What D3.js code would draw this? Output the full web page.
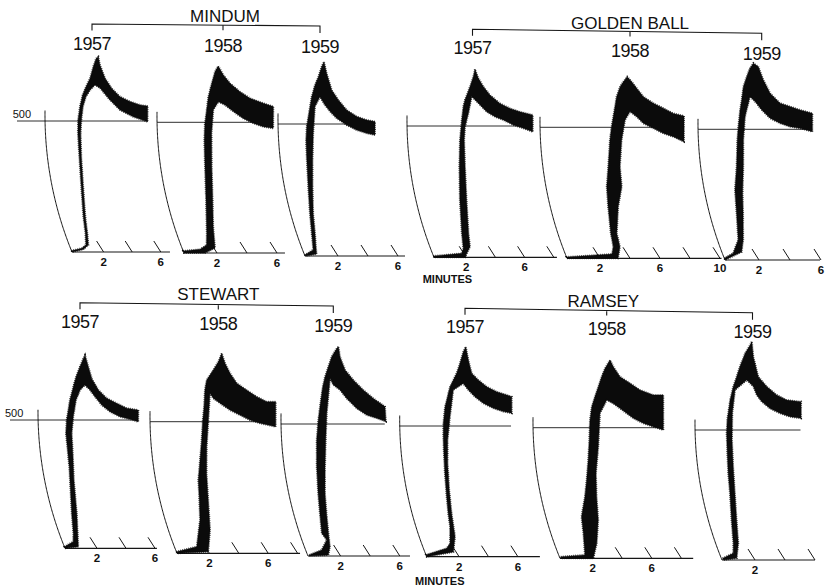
<!DOCTYPE html>
<html>
<head>
<meta charset="utf-8">
<script src="https://cdn.jsdelivr.net/npm/d3@7"></script>
<style>
  body { margin: 0; background: #fff; }
  svg { display: block; }
  text { font-family: "Liberation Sans", Arial, sans-serif; fill: #111; }
</style>
</head>
<body>
<svg id="chart" width="828" height="588"></svg>
<script>
// ---- data: mixograms, [minutes, units] along outer and inner edge of the trace ----
const varieties = ["MINDUM", "GOLDEN BALL", "STEWART", "RAMSEY"];
const years = ["1957", "1958", "1959"];
const refLevel = 500;
const tickLabelSets = [[2, 6], [2, 6], [2, 6], [2, 6], [2, 6, 10], [2, 6],
                       [2, 6], [2, 6], [2, 6], [2, 6], [2, 6], [2]];

const mindum57Outer = [[0,5],[0.78,14],[1.17,27],[1.43,71],[1.66,135],[2.03,249],[2.23,364],[2.27,453],[2.31,504],[2.44,555],[2.59,599],[2.79,631],[3.02,663],[3.15,707],[3.26,739],[3.40,745],[3.60,714],[4.07,663],[4.59,625],[5.21,593],[5.93,574],[6.64,561],[7.17,557]];
const mindum57Inner = [[0,0],[0.87,10],[1.34,27],[1.57,71],[1.80,135],[2.17,249],[2.37,364],[2.46,453],[2.54,504],[2.65,555],[2.83,593],[3.09,618],[3.41,637],[3.78,626],[4.52,580],[5.24,542],[6.17,516],[7.17,497]];
const mindum58Outer = [[0,8],[1.17,14],[1.72,31],[2.01,75],[2.61,203],[2.96,330],[3.10,432],[3.19,496],[3.31,547],[3.39,598],[3.55,649],[3.69,694],[3.85,715],[4.27,681],[4.77,649],[5.48,617],[6.17,592],[7.07,573],[7.75,560]];
const mindum58Inner = [[0,0],[1.4,0],[2.2,19],[2.59,101],[3.05,203],[3.41,330],[3.61,458],[3.75,547],[4.07,579],[4.53,566],[5.09,541],[5.75,515],[6.41,496],[7.07,483],[7.73,477]];
const mindum59Outer = [[0,4],[0.71,23],[1.01,86],[1.29,162],[1.59,263],[1.78,376],[1.83,439],[1.91,490],[2.12,566],[2.20,603],[2.36,648],[2.53,679],[2.66,717],[2.76,736],[3.05,692],[3.50,629],[3.99,591],[4.57,553],[5.25,528],[5.91,515],[6.47,509]];
const mindum59Inner = [[0.05,0],[0.83,8],[0.97,35],[1.23,86],[1.51,162],[1.88,263],[2.15,364],[2.33,465],[2.45,566],[2.75,603],[3.11,572],[3.47,547],[3.91,522],[4.57,496],[5.23,477],[5.89,465],[6.44,458]];

const golden57Outer = [[0,5],[2.03,15],[2.25,34],[2.51,91],[3.01,218],[3.38,345],[3.59,447],[3.75,523],[3.84,573],[3.93,599],[4.21,650],[4.36,688],[4.41,716],[4.72,682],[5.12,650],[5.62,618],[6.34,586],[7.04,567],[7.73,554],[8.61,542]];
const golden57Inner = [[0,0],[2.12,0],[2.75,40],[2.97,91],[3.47,218],[3.77,345],[3.88,447],[3.97,497],[4.20,548],[4.38,612],[4.98,580],[5.45,554],[6.03,535],[6.60,523],[7.28,504],[7.96,491],[8.60,478]];
const golden58Outer = [[0,5],[3.11,16],[3.39,44],[3.53,95],[3.86,197],[4.05,273],[4.36,350],[4.63,452],[4.77,502],[4.98,579],[5.05,617],[5.23,655],[5.41,674],[5.63,693],[5.97,674],[6.35,649],[6.83,617],[7.52,592],[8.21,573],[8.88,553],[9.60,543]];
const golden58Inner = [[0,0],[3.4,0],[3.83,44],[3.93,95],[4.53,197],[5.05,273],[5.14,350],[5.41,452],[5.67,528],[5.99,560],[6.45,540],[6.89,515],[7.55,496],[8.20,477],[8.86,464],[9.56,445]];
const golden59Outer = [[0,7],[0.70,26],[1.34,77],[1.75,179],[1.98,268],[2.32,357],[2.51,459],[2.60,510],[2.70,574],[2.77,612],[2.81,663],[2.95,701],[3.08,733],[3.25,753],[3.60,740],[4.05,689],[4.57,638],[5.26,600],[5.91,587],[6.57,574],[7.37,561]];
const golden59Inner = [[0,0],[1.28,31],[1.66,77],[2.17,179],[2.43,255],[2.75,357],[2.90,459],[3.03,548],[3.29,625],[3.64,606],[4.10,574],[4.65,542],[5.29,523],[5.94,510],[6.57,504],[7.37,491]];

const stewart57Outer = [[0,6],[0.75,26],[0.97,58],[1.31,136],[1.60,214],[1.86,318],[1.90,396],[1.88,448],[1.97,500],[2.09,539],[2.19,578],[2.38,630],[2.51,669],[2.70,708],[2.86,740],[2.94,753],[3.28,708],[3.60,662],[4.12,617],[4.72,585],[5.42,565],[6.12,546],[6.92,539]];
const stewart57Inner = [[0,0],[0.96,6],[1.66,136],[2.02,266],[2.23,370],[2.28,448],[2.43,513],[2.61,578],[2.86,617],[3.17,636],[3.54,617],[3.91,591],[4.39,558],[4.97,532],[5.65,513],[6.34,503],[6.90,493]];
const stewart58Outer = [[0,6],[1.52,25],[2.37,127],[2.73,215],[2.90,278],[3.22,354],[3.46,430],[3.59,506],[3.67,557],[3.67,620],[3.73,658],[4.10,696],[4.37,728],[4.50,760],[4.84,722],[5.27,684],[5.80,646],[6.51,620],[7.22,595],[7.92,576],[8.53,576]];
const stewart58Inner = [[0,0],[2.17,6],[2.84,89],[3.29,202],[3.54,304],[3.77,405],[3.97,506],[4.03,608],[4.27,589],[4.75,570],[5.44,544],[6.12,525],[6.80,506],[7.48,494],[8.54,481]];
const stewart59Outer = [[0.1,4],[1.09,23],[1.68,61],[1.50,86],[1.78,162],[1.99,238],[2.20,338],[2.37,439],[2.52,515],[2.62,566],[2.72,641],[2.81,679],[2.94,717],[3.06,755],[3.30,787],[3.39,793],[3.62,755],[4.10,705],[4.74,667],[5.48,629],[6.20,597],[7.01,566]];
const stewart59Inner = [[0.1,0],[1.40,4],[1.73,35],[1.95,86],[2.23,162],[2.45,238],[2.76,338],[2.98,439],[3.09,541],[3.16,673],[3.43,648],[3.91,629],[4.40,597],[5.11,559],[5.79,534],[6.47,522],[7.09,509]];

const ramsey57Outer = [[0,7],[1.59,32],[1.94,51],[2.32,115],[2.46,166],[2.63,230],[2.80,319],[2.90,396],[2.94,459],[2.97,510],[3.07,574],[3.32,650],[3.50,676],[3.67,702],[3.80,740],[3.89,784],[3.99,803],[4.33,753],[4.69,702],[5.20,676],[5.82,650],[6.52,631],[7.22,619],[7.57,612]];
const ramsey57Inner = [[0,0],[1.94,18],[2.44,77],[2.69,166],[2.90,255],[3.08,357],[3.22,446],[3.42,536],[3.56,638],[4.20,663],[4.59,638],[5.07,612],[5.66,587],[6.36,568],[7.04,555],[7.62,549]];
const ramsey58Outer = [[0.1,6],[1.78,13],[2.20,96],[2.41,159],[2.97,236],[3.30,300],[3.59,376],[3.77,453],[3.85,529],[3.95,580],[4.13,619],[4.30,657],[4.45,695],[4.60,727],[4.85,759],[5.15,733],[5.69,695],[6.42,670],[7.14,644],[8.06,625],[8.74,625]];
const ramsey58Inner = [[0.1,0],[2.25,0],[2.87,57],[3.48,147],[3.76,236],[4.00,325],[4.35,427],[4.52,555],[4.94,606],[5.39,593],[5.86,574],[6.32,555],[6.78,536],[7.45,517],[8.12,504],[8.80,491]];
const ramsey59Outer = [[0.1,7],[0.93,26],[1.18,64],[1.55,154],[1.87,257],[1.98,333],[2.07,410],[2.10,487],[2.15,538],[2.29,615],[2.43,667],[2.58,705],[2.70,743],[2.89,795],[3.11,827],[3.17,840],[3.48,782],[4.02,705],[4.66,667],[5.37,635],[6.07,615],[7.03,609]];
const ramsey59Inner = [[0.1,0],[1.03,7],[1.51,64],[1.89,154],[2.20,257],[2.37,359],[2.44,462],[2.48,564],[2.57,654],[3.28,692],[3.77,667],[4.04,635],[4.41,609],[4.98,583],[5.66,564],[6.33,551],[7.07,545]];

const traces = [
  [mindum57Outer, mindum57Inner], [mindum58Outer, mindum58Inner], [mindum59Outer, mindum59Inner],
  [golden57Outer, golden57Inner], [golden58Outer, golden58Inner], [golden59Outer, golden59Inner],
  [stewart57Outer, stewart57Inner], [stewart58Outer, stewart58Inner], [stewart59Outer, stewart59Inner],
  [ramsey57Outer, ramsey57Inner], [ramsey58Outer, ramsey58Inner], [ramsey59Outer, ramsey59Inner]
];

// ---- layout: where each recorder chart sits on the page ----
const frames = [
  { x0: 72,    yBase: 252,   y500: 121,   ppm: 14.3, span: 6.85, lineStart: 17 },
  { x0: 184,   yBase: 253,   y500: 122.3, ppm: 15,   span: 6.73 },
  { x0: 305,   yBase: 256,   y500: 124,   ppm: 15,   span: 6.67 },
  { x0: 434,   yBase: 257.3, y500: 126,   ppm: 14.6, span: 8.42 },
  { x0: 567,   yBase: 258.3, y500: 127.3, ppm: 15,   span: 10.3 },
  { x0: 725,   yBase: 260,   y500: 129.3, ppm: 15.5, span: 6.13 },
  { x0: 65,    yBase: 548.3, y500: 420,   ppm: 14.5, span: 6.34, lineStart: 10 },
  { x0: 177,   yBase: 553.3, y500: 421.7, ppm: 14.7, span: 8.37 },
  { x0: 308,   yBase: 556,   y500: 424,   ppm: 14.8, span: 6.89 },
  { x0: 426.7, yBase: 556.7, y500: 426,   ppm: 14.7, span: 7.7 },
  { x0: 560,   yBase: 558.3, y500: 427.7, ppm: 14.8, span: 9.0 },
  { x0: 722,   yBase: 560,   y500: 430,   ppm: 15,   span: 6.2 }
];
const yearSpots = [[92, 50], [223, 51.5], [320, 53], [472.5, 53.5], [630, 56.5], [761.7, 60],
                   [80, 328], [218.3, 330], [333.3, 332], [465, 333], [606.7, 335], [752.5, 338]];
// title x, title baseline, bracket y at left end, bracket y at right end
const titleSpots = [[225, 21.5, 24, 26], [630, 28.5, 29.3, 33.3], [218.3, 300, 302.7, 306], [603.3, 306.7, 308.3, 312.7]];
const minutesSpots = [[422.7, 283], [415, 585]];
const refLabelSpots = [[12.7, 117.5], [5, 417]];

const svg = d3.select("#chart");
svg.append("rect").attr("width", 828).attr("height", 588).attr("fill", "#fff");

// recorder pen swings on an arc: horizontal offset for a height h above the base line
const arcR = 361, arcC = 137, arcX0 = Math.sqrt(arcR * arcR - arcC * arcC);
function arcShift(h) {
  return arcX0 - Math.sqrt(arcR * arcR - (h - arcC) * (h - arcC));
}

const ink = "#161616";
const line = d3.line();

frames.forEach((f, i) => {
  const x = d3.scaleLinear().domain([0, 10]).range([f.x0, f.x0 + 10 * f.ppm]);
  const y = d3.scaleLinear().domain([0, refLevel]).range([f.yBase, f.y500]);
  const proj = (t, v) => [x(t) + arcShift(y(0) - y(v)), y(v)];
  const g = svg.append("g");
  const [outer, inner] = traces[i];

  // base line with slanted minute ticks
  g.append("line")
    .attr("x1", x(0)).attr("x2", x(f.span))
    .attr("y1", y(0)).attr("y2", y(0))
    .attr("stroke", ink).attr("stroke-width", 1.2);

  g.selectAll(".tick")
    .data(d3.range(2, f.span + 0.01, 2))
    .enter().append("line")
    .attr("class", "tick")
    .attr("x1", d => x(d) + 3).attr("y1", y(0))
    .attr("x2", d => x(d) - 4).attr("y2", y(0) - 11)
    .attr("stroke", ink).attr("stroke-width", 1);

  g.selectAll(".tlabel")
    .data(tickLabelSets[i])
    .enter().append("text")
    .attr("class", "tlabel")
    .attr("x", d => x(d) + 3)
    .attr("y", y(0) + 14)
    .attr("text-anchor", "middle")
    .attr("fill", "#111")
    .style("font-size", "11.5px")
    .style("font-weight", "bold")
    .text(d => d);

  // the pen arc at time zero
  g.append("path")
    .attr("d", line(d3.range(0, 541, 5).map(v => proj(0, v))))
    .attr("fill", "none").attr("stroke", ink).attr("stroke-width", 1);

  // 500 reference line
  const tEnd = outer[outer.length - 1][0];
  g.append("line")
    .attr("x1", f.lineStart !== undefined ? f.lineStart : proj(0, refLevel)[0])
    .attr("x2", proj(tEnd, refLevel)[0])
    .attr("y1", y(refLevel)).attr("y2", y(refLevel))
    .attr("stroke", ink).attr("stroke-width", 0.9);

  // trace band, with a serrated outline for the pen chatter
  const band = d3.line().curve(d3.curveLinearClosed)(
    outer.concat(inner.slice().reverse()).map(d => proj(d[0], d[1])));
  g.append("path")
    .attr("d", band)
    .attr("fill", "#0b0b0b")
    .attr("stroke", "#0b0b0b").attr("stroke-width", 0.4)
    .attr("stroke-linejoin", "round");
  g.append("path")
    .attr("d", band)
    .attr("fill", "none")
    .attr("stroke", "#0b0b0b").attr("stroke-width", 2)
    .attr("stroke-dasharray", "0.6 1.5");

  // year label
  svg.append("text")
    .attr("x", yearSpots[i][0]).attr("y", yearSpots[i][1])
    .attr("text-anchor", "middle")
    .attr("fill", "#111")
    .style("font-size", "18px")
    .style("letter-spacing", "-0.5px")
    .text(years[i % 3]);
});

// variety titles with brackets
varieties.forEach((name, k) => {
  const [tx, ty, yl, yr] = titleSpots[k];
  const xl = yearSpots[k * 3][0], xm = yearSpots[k * 3 + 1][0], xr = yearSpots[k * 3 + 2][0];
  const ym = yl + (yr - yl) * (xm - xl) / (xr - xl);
  svg.append("text")
    .attr("x", tx).attr("y", ty)
    .attr("text-anchor", "middle")
    .attr("fill", "#111")
    .style("font-size", "17px")
    .text(name);
  svg.append("path")
    .attr("d", `M${xl},${yl + 6.5}V${yl}L${xr},${yr}V${yr + 7}M${xm},${ym}V${ym + 5}`)
    .attr("fill", "none").attr("stroke", ink).attr("stroke-width", 1.1);
});

minutesSpots.forEach(([mx, my]) => {
  svg.append("text")
    .attr("x", mx).attr("y", my)
    .attr("fill", "#111")
    .style("font-size", "11px")
    .style("font-weight", "bold")
    .text("MINUTES");
});

refLabelSpots.forEach(([rx, ry]) => {
  svg.append("text")
    .attr("x", rx).attr("y", ry)
    .attr("fill", "#111")
    .style("font-size", "11px")
    .text(refLevel);
});
</script>
</body>
</html>
